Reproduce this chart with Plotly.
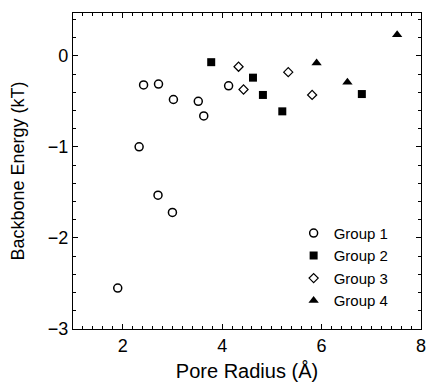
import plotly.graph_objects as go

# Data
g1_x = [1.9, 2.33, 2.42, 2.72, 2.71, 3.0, 3.02, 3.52, 3.63, 4.13]
g1_y = [-2.55, -1.0, -0.32, -0.31, -1.53, -1.72, -0.48, -0.5, -0.66, -0.33]
g2_x = [3.78, 4.62, 4.82, 5.21, 6.81]
g2_y = [-0.07, -0.24, -0.43, -0.61, -0.42]
g3_x = [4.33, 4.43, 5.33, 5.81]
g3_y = [-0.12, -0.37, -0.18, -0.43]
g4_x = [5.9, 6.52, 7.52]
g4_y = [-0.08, -0.29, 0.23]

x_ticks = [2, 4, 6, 8]
y_ticks = [-3, -2, -1, 0]

FONT = "Liberation Sans, Arial, Helvetica, sans-serif"

fig = go.Figure()
fig.add_trace(go.Scatter(x=g1_x, y=g1_y, mode="markers", name="Group 1",
                         marker=dict(symbol="circle-open", size=8, color="black",
                                     line=dict(width=1.5, color="black"))))
fig.add_trace(go.Scatter(x=g2_x, y=g2_y, mode="markers", name="Group 2",
                         marker=dict(symbol="square", size=8, color="black")))
fig.add_trace(go.Scatter(x=g3_x, y=g3_y, mode="markers", name="Group 3",
                         marker=dict(symbol="diamond-open", size=7, color="black",
                                     line=dict(width=1.2, color="black"))))
fig.add_trace(go.Scatter(x=g4_x, y=g4_y, mode="markers", name="Group 4",
                         marker=dict(symbol="triangle-up", size=9, color="black")))

axis_common = dict(showgrid=False, zeroline=False, showline=True, linecolor="black",
                   linewidth=1.2, mirror="allticks", ticks="inside", ticklen=5,
                   tickwidth=1, tickcolor="black", ticklabeloverflow="allow",
                   tickfont=dict(family=FONT, size=18, color="black"))

fig.update_xaxes(range=[1, 8], tickvals=x_ticks,
                 title=dict(text="Pore Radius (Å)", font=dict(family=FONT, size=20, color="black"),
                            standoff=9),
                 minor=dict(ticks="inside", dtick=0.2, ticklen=3, tickcolor="black"),
                 **axis_common)
fig.update_yaxes(range=[-3, 0.47], tickvals=y_ticks,
                 title=dict(text="Backbone Energy (kT)", font=dict(family=FONT, size=18, color="black"),
                            standoff=18),
                 minor=dict(ticks="inside", dtick=0.2, ticklen=3, tickcolor="black"),
                 **axis_common)

fig.update_layout(width=430, height=384, margin=dict(l=73, r=4, t=13, b=55),
                  plot_bgcolor="white", paper_bgcolor="white",
                  legend=dict(x=0.634, y=0.355, xanchor="left", yanchor="top",
                              bgcolor="rgba(0,0,0,0)", itemwidth=30,
                              tracegroupgap=0,
                              font=dict(family=FONT, size=15, color="black")),
                  showlegend=True)

fig.write_html("out.html")
